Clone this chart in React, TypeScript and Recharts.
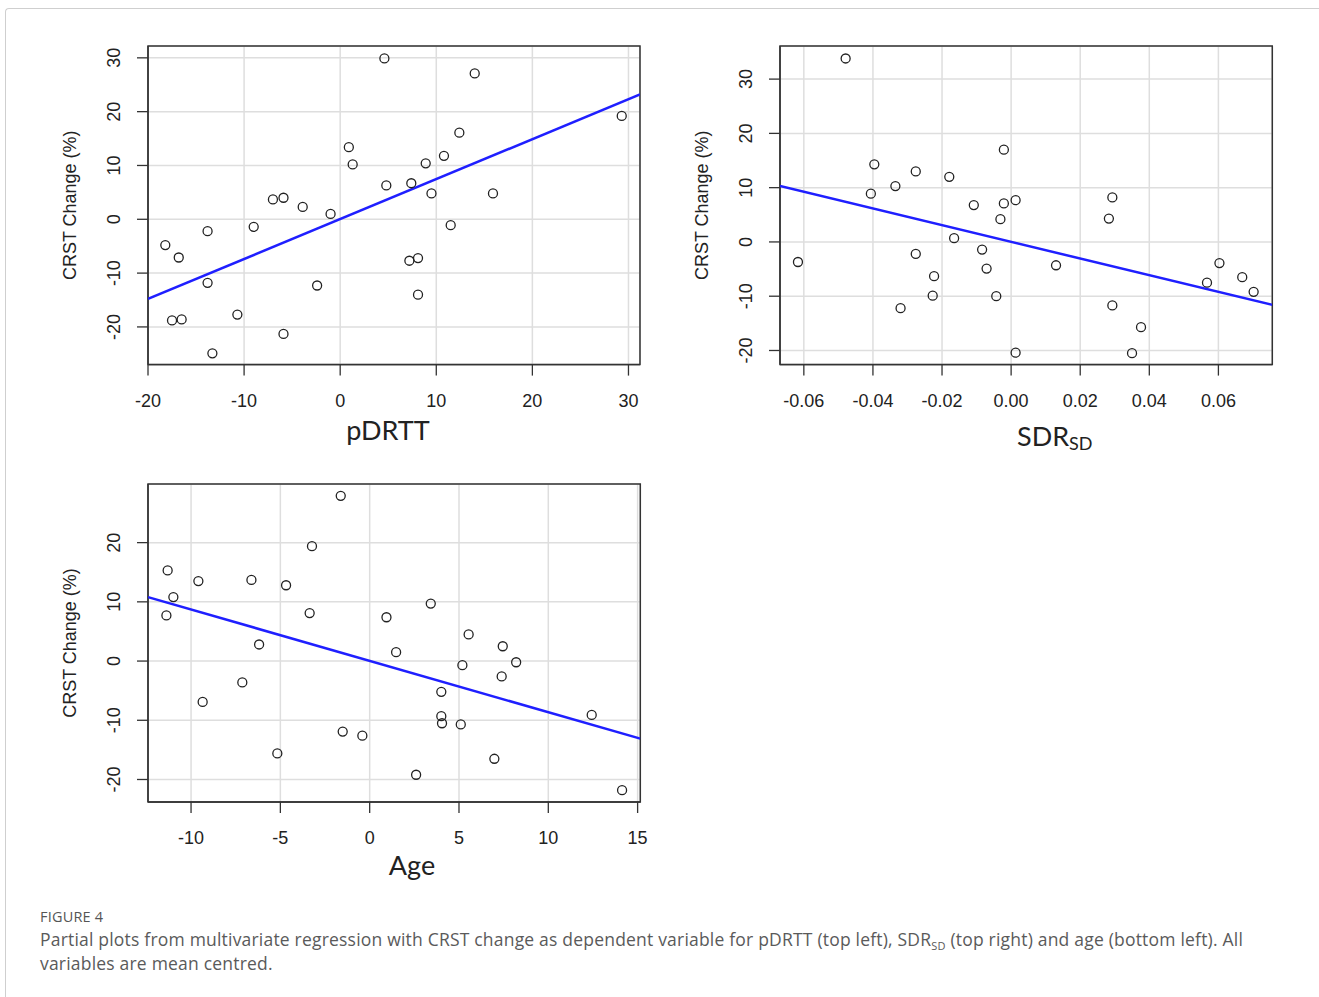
import React from "react";
import {
  ScatterChart,
  Scatter,
  XAxis,
  YAxis,
  CartesianGrid,
  ReferenceArea,
  Label,
} from "recharts";

// Panel A: pDRTT (x) vs CRST change (y)
const pdrttX = [
  -18.2, -17.5, -16.8, -16.5, -13.8, -13.8, -13.3, -10.7, -9.0, -7.0, -5.9,
  -5.9, -3.9, -2.4, -1.0, 0.9, 1.3, 4.6, 4.8, 7.2, 7.4, 8.1, 8.1, 8.9, 9.5,
  10.8, 11.5, 12.4, 14.0, 15.9, 29.3,
];
const pdrttY = [
  -4.8, -18.8, -7.1, -18.6, -2.2, -11.8, -24.9, -17.7, -1.4, 3.7, 4.0, -21.3,
  2.3, -12.3, 1.0, 13.4, 10.2, 29.9, 6.3, -7.7, 6.7, -7.2, -14.0, 10.4, 4.8,
  11.8, -1.1, 16.1, 27.1, 4.8, 19.2,
];
const pdrttFitX = [-20, 31.2];
const pdrttFitY = [-14.8, 23.2];
const pdrttTicksX = [-20, -10, 0, 10, 20, 30];
const pdrttTicksY = [-20, -10, 0, 10, 20, 30];

// Panel B: SDR_SD (x) vs CRST change (y)
const sdrX = [
  -0.0617, -0.0479, -0.0406, -0.0396, -0.0335, -0.032, -0.0276, -0.0276,
  -0.0227, -0.0223, -0.0179, -0.0165, -0.0108, -0.0084, -0.0071, -0.0043,
  -0.0031, -0.0021, -0.0021, 0.0013, 0.0013, 0.013, 0.0283, 0.0293, 0.0293,
  0.035, 0.0376, 0.0567, 0.0603, 0.0669, 0.0702,
];
const sdrY = [
  -3.7, 33.8, 8.9, 14.3, 10.3, -12.2, 13.0, -2.2, -9.9, -6.3, 12.0, 0.7, 6.8,
  -1.4, -4.9, -10.0, 4.2, 17.0, 7.1, 7.7, -20.4, -4.3, 4.3, 8.2, -11.7, -20.5,
  -15.7, -7.5, -3.9, -6.5, -9.2,
];
const sdrFitX = [-0.0669, 0.0756];
const sdrFitY = [10.3, -11.6];
const sdrTicksX = [-0.06, -0.04, -0.02, 0, 0.02, 0.04, 0.06];
const sdrTicksY = [-20, -10, 0, 10, 20, 30];

// Panel C: age (x) vs CRST change (y)
const ageX = [
  -11.38, -11.31, -10.99, -9.59, -9.35, -7.13, -6.62, -6.19, -5.17, -4.68,
  -3.36, -3.23, -1.62, -1.51, -0.41, 0.94, 1.48, 2.6, 3.42, 4.01, 4.01, 4.05,
  5.1, 5.19, 5.54, 6.98, 7.39, 7.45, 8.2, 12.43, 14.13,
];
const ageY = [
  7.7, 15.3, 10.8, 13.5, -6.9, -3.6, 13.7, 2.8, -15.6, 12.8, 8.1, 19.4, 27.9,
  -11.9, -12.6, 7.4, 1.5, -19.2, 9.7, -5.2, -9.3, -10.5, -10.7, -0.7, 4.5,
  -16.5, -2.6, 2.5, -0.2, -9.1, -21.8,
];
const ageFitX = [-12.41, 15.15];
const ageFitY = [10.8, -13.1];
const ageTicksX = [-10, -5, 0, 5, 10, 15];
const ageTicksY = [-20, -10, 0, 10, 20];

const Y_LABEL = "CRST Change (%)";
const TICK_FONT = "'Liberation Sans', Arial, Helvetica, sans-serif";
const TITLE_FONT = "Lato, 'Open Sans', sans-serif";
const CAPTION_FONT = "'Open Sans', Lato, sans-serif";

const YW = 110; // y axis band
const XH = 110; // x axis band
const MT = 10;
const MR = 10;

interface PanelProps {
  left: number;
  top: number;
  width: number;
  height: number;
  xs: number[];
  ys: number[];
  fitX: number[];
  fitY: number[];
  xDomain: [number, number];
  yDomain: [number, number];
  xTicks: number[];
  yTicks: number[];
  digits: number;
  title: string;
  sub?: string;
  titleDx: number;
  titleDy: number;
}

function Panel(props: PanelProps) {
  const { left, top, width, height, xs, ys, fitX, fitY } = props;
  const points = xs.map((x, i) => ({ x, y: ys[i] }));
  const fit = fitX.map((x, i) => ({ x, y: fitY[i] }));

  const XTick = (p: any) => (
    <text
      x={p.x}
      y={p.y + 29}
      textAnchor="middle"
      fontSize={18}
      fill="#222"
      fontFamily={TICK_FONT}
    >
      {Number(p.payload.value).toFixed(props.digits)}
    </text>
  );

  const YTick = (p: any) => {
    const cx = p.x - 21;
    return (
      <text
        x={cx}
        y={p.y}
        dy="0.35em"
        transform={`rotate(-90, ${cx}, ${p.y})`}
        textAnchor="middle"
        fontSize={18}
        fill="#222"
        fontFamily={TICK_FONT}
      >
        {p.payload.value}
      </text>
    );
  };

  return (
    <div style={{ position: "absolute", left: left - YW, top: top - MT }}>
      <ScatterChart
        width={YW + width + MR}
        height={MT + height + XH}
        margin={{ top: MT, right: MR, bottom: 0, left: 0 }}
      >
        <CartesianGrid stroke="#dedede" strokeWidth={1.5} />
        <XAxis
          type="number"
          dataKey="x"
          domain={props.xDomain}
          ticks={props.xTicks}
          allowDataOverflow
          height={XH}
          tickSize={11}
          tick={XTick}
          stroke="#333"
          strokeWidth={1.3}
        >
          <Label
            content={(lp: any) => {
              const vb = lp.viewBox;
              return (
                <text
                  x={vb.x + props.titleDx}
                  y={vb.y + props.titleDy}
                  textAnchor={props.sub ? "start" : "middle"}
                  fontSize={27}
                  fill="#222"
                  fontFamily={TITLE_FONT}
                >
                  <tspan>{props.title}</tspan>
                  {props.sub ? (
                    <tspan fontSize={18} dy={4}>
                      {props.sub}
                    </tspan>
                  ) : null}
                </text>
              );
            }}
          />
        </XAxis>
        <YAxis
          type="number"
          dataKey="y"
          domain={props.yDomain}
          ticks={props.yTicks}
          allowDataOverflow
          width={YW}
          tickSize={11}
          tick={YTick}
          stroke="#333"
          strokeWidth={1.3}
        >
          <Label
            content={(lp: any) => {
              const vb = lp.viewBox;
              const cx = vb.x + vb.width - 78;
              const cy = vb.y + vb.height / 2;
              return (
                <text
                  x={cx}
                  y={cy}
                  dy="0.35em"
                  transform={`rotate(-90, ${cx}, ${cy})`}
                  textAnchor="middle"
                  fontSize={18}
                  fill="#222"
                  fontFamily={TICK_FONT}
                >
                  {Y_LABEL}
                </text>
              );
            }}
          />
        </YAxis>
        <ReferenceArea
          x1={props.xDomain[0]}
          x2={props.xDomain[1]}
          y1={props.yDomain[0]}
          y2={props.yDomain[1]}
          fill="none"
          stroke="#333"
          strokeWidth={1.5}
          ifOverflow="visible"
        />
        <Scatter
          data={fit}
          line={{ stroke: "#1f1fff", strokeWidth: 2.5 }}
          shape={() => <g />}
          isAnimationActive={false}
        />
        <Scatter
          data={points}
          isAnimationActive={false}
          shape={(p: any) => (
            <circle
              cx={p.cx}
              cy={p.cy}
              r={4.5}
              fill="none"
              stroke="#222"
              strokeWidth={1.3}
            />
          )}
        />
      </ScatterChart>
    </div>
  );
}

export default function App() {
  return (
    <div
      style={{
        position: "absolute",
        left: 0,
        top: 0,
        width: 1319,
        height: 997,
        background: "#fff",
        overflow: "hidden",
      }}
    >
      <div
        style={{
          position: "absolute",
          left: 5,
          top: 8,
          width: 1330,
          height: 1000,
          borderTop: "1px solid #cfcfcf",
          borderLeft: "1px solid #cfcfcf",
          borderTopLeftRadius: 4,
        }}
      />
      <Panel
        left={147.7}
        top={45.7}
        width={492}
        height={318.6}
        xs={pdrttX}
        ys={pdrttY}
        fitX={pdrttFitX}
        fitY={pdrttFitY}
        xDomain={[-20, 31.2]}
        yDomain={[-27, 32.2]}
        xTicks={pdrttTicksX}
        yTicks={pdrttTicksY}
        digits={0}
        title="pDRTT"
        titleDx={240}
        titleDy={75}
      />
      <Panel
        left={779.7}
        top={45.7}
        width={492.3}
        height={318.6}
        xs={sdrX}
        ys={sdrY}
        fitX={sdrFitX}
        fitY={sdrFitY}
        xDomain={[-0.0669, 0.0756]}
        yDomain={[-22.6, 36.1]}
        xTicks={sdrTicksX}
        yTicks={sdrTicksY}
        digits={2}
        title="SDR"
        sub="SD"
        titleDx={237}
        titleDy={81}
      />
      <Panel
        left={147.7}
        top={483.7}
        width={492.3}
        height={318}
        xs={ageX}
        ys={ageY}
        fitX={ageFitX}
        fitY={ageFitY}
        xDomain={[-12.41, 15.15]}
        yDomain={[-23.8, 29.9]}
        xTicks={ageTicksX}
        yTicks={ageTicksY}
        digits={0}
        title="Age"
        titleDx={264}
        titleDy={73}
      />
      <div
        style={{
          position: "absolute",
          left: 40,
          top: 907,
          fontFamily: CAPTION_FONT,
          fontSize: 14.5,
          color: "#555",
          letterSpacing: 0.2,
        }}
      >
        FIGURE 4
      </div>
      <div
        style={{
          position: "absolute",
          left: 40,
          top: 927,
          width: 1270,
          fontFamily: CAPTION_FONT,
          fontSize: 17.5,
          letterSpacing: 0.2,
          lineHeight: "24px",
          color: "#5a5a5a",
          whiteSpace: "nowrap",
        }}
      >
        Partial plots from multivariate regression with CRST change as
        dependent variable for pDRTT (top left), SDR
        <span
          style={{
            fontSize: 11,
            position: "relative",
            top: 4,
            lineHeight: 0,
          }}
        >
          SD
        </span>{" "}
        (top right) and age (bottom left). All
        <br />
        variables are mean centred.
      </div>
    </div>
  );
}
